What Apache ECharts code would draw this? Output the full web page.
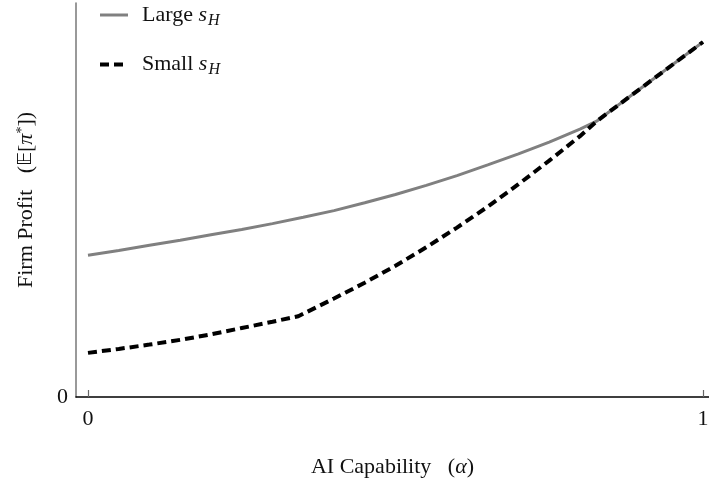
<!DOCTYPE html>
<html>
<head>
<meta charset="utf-8">
<script src="https://cdn.jsdelivr.net/npm/echarts@6/dist/echarts.min.js"></script>
<style>
  html, body { margin: 0; padding: 0; background: #fff; }
  #chart { width: 709px; height: 479px; }
</style>
</head>
<body>
<div id="chart"></div>
<script>
// AI capability levels (alpha) at which profit is evaluated
const alphaLarge = [0, 0.05, 0.10, 0.15, 0.20, 0.25, 0.30, 0.35, 0.40, 0.45, 0.50, 0.55, 0.60, 0.65, 0.70, 0.75, 0.80, 0.828, 1.0];
const profitLarge = [0.360, 0.372, 0.385, 0.398, 0.412, 0.425, 0.440, 0.456, 0.473, 0.493, 0.514, 0.537, 0.562, 0.589, 0.617, 0.647, 0.680, 0.701, 0.901];

const alphaSmall = [0, 0.05, 0.10, 0.15, 0.20, 0.25, 0.30, 0.342, 0.40, 0.45, 0.50, 0.55, 0.60, 0.65, 0.70, 0.75, 0.80, 0.828, 1.0];
const profitSmall = [0.112, 0.122, 0.133, 0.145, 0.159, 0.175, 0.191, 0.205, 0.250, 0.290, 0.333, 0.380, 0.430, 0.483, 0.540, 0.600, 0.662, 0.701, 0.901];

const xTicks = [0, 1];
const yTicks = [0];

const serif = '"Liberation Serif", "DejaVu Serif", serif';
const FS = 22;

const pair = (xs, ys) => xs.map((x, i) => [x, ys[i]]);

const chart = echarts.init(document.getElementById('chart'), null, { renderer: 'canvas' });

const rich = {
  n: { fontFamily: serif, fontSize: FS, color: '#111' },
  i: { fontFamily: serif, fontSize: FS, fontStyle: 'italic', color: '#111' },
  sub: { fontFamily: serif, fontSize: 16, fontStyle: 'italic', color: '#111', padding: [11, 0, 0, 1] },
  sup: { fontFamily: serif, fontSize: 14, color: '#111', padding: [0, 0, 9, 0] },
  bb: { fontFamily: '"DejaVu Sans", "DejaVu Serif", serif', fontSize: FS - 3, color: '#111' }
};

chart.setOption({
  animation: false,
  backgroundColor: '#fff',
  grid: { left: 76, right: 0, top: 3, bottom: 82, containLabel: false, outerBoundsMode: 'none' },
  legend: {
    left: 98,
    top: 4,
    padding: 0,
    orient: 'vertical',
    itemWidth: 28,
    itemHeight: 26,
    itemGap: 25,
    data: [
      { name: 'Large', lineStyle: { width: 3, color: '#808080' } },
      { name: 'Small', lineStyle: { width: 4, color: '#000' } }
    ],
    itemStyle: { opacity: 0 },
    formatter: name => '{n|' + name + ' }{i|s}{sub|H}',
    textStyle: { rich: rich, padding: [0, 0, 0, 9] }
  },
  xAxis: {
    type: 'value',
    min: -0.0195,
    max: 1.0098,
    name: '{n|AI Capability   (}{i|α}{n|)}',
    nameLocation: 'middle',
    nameGap: 59,
    nameTextStyle: { rich: rich },
    axisLine: { show: true, lineStyle: { color: '#000', width: 1.5 } },
    axisTick: { show: true, inside: true, length: 7, lineStyle: { color: '#666', width: 1.2 }, customValues: xTicks },
    axisLabel: { fontFamily: serif, fontSize: FS, color: '#111', margin: 11, customValues: xTicks, formatter: v => String(v) },
    splitLine: { show: false }
  },
  yAxis: {
    type: 'value',
    min: 0,
    max: 1,
    name: '{n|Firm Profit   (}{bb|𝔼}{n|[}{i|π}{sup|*}{n|])}',
    nameLocation: 'middle',
    nameGap: 38,
    nameRotate: 90,
    nameTextStyle: { rich: rich },
    axisLine: { show: true, onZero: false, lineStyle: { color: '#777', width: 1.5 } },
    axisTick: { show: false },
    axisLabel: { fontFamily: serif, fontSize: FS, color: '#111', margin: 8, customValues: yTicks, formatter: v => String(v) },
    splitLine: { show: false }
  },
  series: [
    {
      name: 'Large',
      type: 'line',
      data: pair(alphaLarge, profitLarge),
      showSymbol: false,
      symbol: 'none',
      lineStyle: { color: '#808080', width: 3 },
      itemStyle: { color: '#808080' },
      z: 2
    },
    {
      name: 'Small',
      type: 'line',
      data: pair(alphaSmall, profitSmall),
      showSymbol: false,
      symbol: 'none',
      lineStyle: { color: '#000', width: 4, type: [9, 5] },
      itemStyle: { color: '#000' },
      z: 3
    }
  ]
});
</script>
</body>
</html>
